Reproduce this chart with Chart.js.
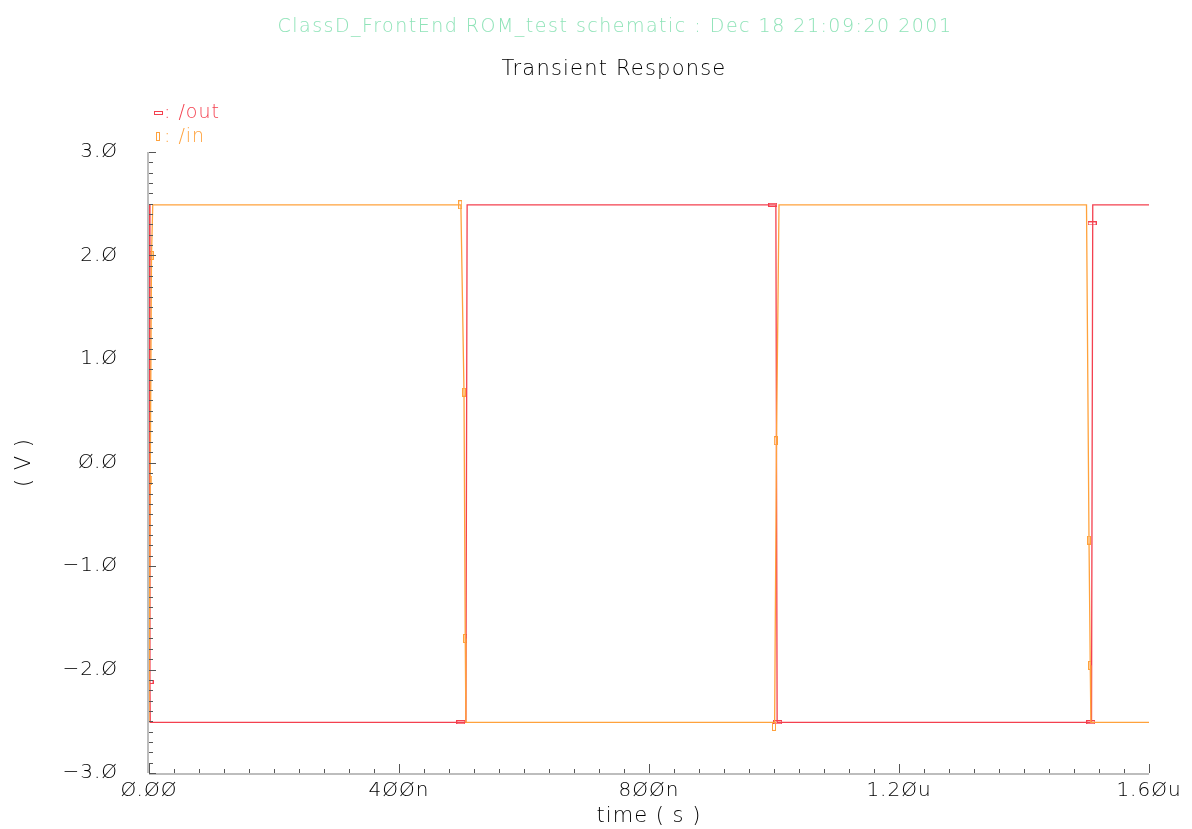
<!DOCTYPE html>
<html>
<head>
<meta charset="utf-8">
<script src="https://cdn.jsdelivr.net/npm/chart.js@4"></script>
<style>
  body { margin: 0; background: #fff; }
  #wrap { width: 1192px; height: 829px; }
</style>
</head>
<body>
<div id="wrap"><canvas id="canva" width="1192" height="829"></canvas></div>
<script>
// values (time in ns, voltage in V)
const outTime = [0, 1.5, 2, 507, 509, 1003, 1005, 1508, 1510, 1600];
const outVolt = [2.49, -2.12, -2.51, -2.51, 2.49, 2.49, -2.51, -2.51, 2.49, 2.49];
const inTime = [0, 2, 4, 6, 499, 504, 506, 507, 1001, 1004, 1008, 1500, 1504, 1506, 1507, 1600];
const inVolt = [-2.51, -0.17, 2.0, 2.49, 2.49, 0.68, -1.7, -2.51, -2.51, 0.21, 2.49, 2.49, -0.75, -1.96, -2.51, -2.51];
// marker positions
const outMarkTime = [0, 499, 998, 1006, 1507, 1509];
const outMarkVolt = [-2.12, -2.51, 2.49, -2.51, -2.51, 2.31];
const inMarkTime = [2, 4, 498, 504, 506, 1000, 1003, 1504, 1506];
const inMarkVolt = [-0.17, 2.0, 2.49, 0.68, -1.7, -2.55, 0.21, -0.75, -1.96];

const xTicks = [0, 400, 800, 1200, 1600];
const xLabels = ["Ø.ØØ", "4ØØn", "8ØØn", "1.2Øu", "1.6Øu"];
const yTicks = [-3, -2, -1, 0, 1, 2, 3];
const yLabels = ["−3.Ø", "−2.Ø", "−1.Ø", "Ø.Ø", "1.Ø", "2.Ø", "3.Ø"];

const header = "ClassD_FrontEnd ROM_test schematic : Dec 18 21:09:20 2001";
const title = "Transient Response";

const RED = "#f4404f";
const ORANGE = "#ffa23c";
const FONT = '"DejaVu Sans", sans-serif';

function markCanvas(w, h, color) {
  const c = document.createElement("canvas");
  c.width = w; c.height = h;
  const g = c.getContext("2d");
  g.strokeStyle = color;
  g.lineWidth = 1;
  g.strokeRect(0.5, 0.5, w - 1, h - 1);
  return c;
}
const redMark = markCanvas(9, 4, RED);
const orMark = markCanvas(4, 9, ORANGE);

const pts = (xs, ys) => xs.map((x, i) => ({ x: x, y: ys[i] }));

const decor = {
  id: "decor",
  beforeDraw(chart) {
    chart.ctx.letterSpacing = "1px";
  },
  afterDraw(chart) {
    const g = chart.ctx;
    const a = chart.chartArea;
    const xs = chart.scales.x, ys = chart.scales.y;
    g.save();
    // header + title
    g.textAlign = "center";
    g.textBaseline = "middle";
    g.letterSpacing = "1.5px";
    g.font = "200 19px " + FONT;
    g.fillStyle = "#8fe3b8";
    g.fillText(header, 615, 27);
    g.letterSpacing = "1.2px";
    g.font = "200 21px " + FONT;
    g.fillStyle = "#000";
    g.fillText(title, 614, 70);
    // legend
    g.textAlign = "left";
    g.letterSpacing = "1px";
    g.font = "200 19px " + FONT;
    g.drawImage(redMark, 154, 111);
    g.fillStyle = RED;
    g.fillText(": /out", 164, 113);
    g.drawImage(orMark, 156, 132);
    g.fillStyle = ORANGE;
    g.fillText(": /in", 164, 137);
    // axis lines
    g.strokeStyle = "#bdbdbd";
    g.lineWidth = 2;
    g.beginPath();
    g.moveTo(a.left - 1, a.top);
    g.lineTo(a.left - 1, a.bottom);
    g.moveTo(a.left, a.bottom + 1);
    g.lineTo(a.right, a.bottom + 1);
    g.stroke();
    // ticks
    g.strokeStyle = "#555";
    g.lineWidth = 1;
    g.beginPath();
    for (let i = 0; i <= 60; i++) {
      const v = -3 + i * 0.1;
      const y = Math.round(ys.getPixelForValue(v)) + 0.5;
      const len = i % 10 === 0 ? 7 : 4;
      g.moveTo(a.left, y);
      g.lineTo(a.left + len, y);
    }
    for (let i = 0; i <= 40; i++) {
      const x = Math.round(xs.getPixelForValue(i * 40)) + 0.5;
      const len = i % 10 === 0 ? 9 : 4;
      g.moveTo(x, a.bottom);
      g.lineTo(x, a.bottom - len);
    }
    g.stroke();
    g.restore();
  }
};

new Chart(document.getElementById("canva"), {
  type: "scatter",
  data: {
    datasets: [
      { data: pts(inTime, inVolt), showLine: true, borderColor: ORANGE, borderWidth: 1.3, pointRadius: 0 },
      { data: pts(outTime, outVolt), showLine: true, borderColor: RED, borderWidth: 1.3, pointRadius: 0 },
      { data: pts(inMarkTime, inMarkVolt), pointStyle: orMark, pointRadius: 4 },
      { data: pts(outMarkTime, outMarkVolt), pointStyle: redMark, pointRadius: 4 }
    ]
  },
  options: {
    responsive: false,
    animation: false,
    layout: { padding: { top: 152, right: 43, bottom: 0, left: 0 } },
    plugins: { legend: { display: false }, tooltip: { enabled: false } },
    scales: {
      x: {
        type: "linear",
        min: 0,
        max: 1600,
        afterFit: (s) => { s.height = 56; },
        afterBuildTicks: (s) => { s.ticks = xTicks.map((v) => ({ value: v })); },
        ticks: {
          callback: (v) => xLabels[xTicks.indexOf(v)],
          color: "#000",
          font: { family: FONT, size: 20, weight: 200 },
          padding: 6,
          maxRotation: 0
        },
        grid: { display: false, drawTicks: false },
        border: { display: false },
        title: { display: true, text: "time ( s )", color: "#000", font: { family: FONT, size: 21, weight: 200 }, padding: { top: 0, bottom: 0 } }
      },
      y: {
        min: -3,
        max: 3,
        afterFit: (s) => { s.width = 149; },
        afterBuildTicks: (s) => { s.ticks = yTicks.map((v) => ({ value: v })); },
        ticks: {
          callback: (v) => yLabels[yTicks.indexOf(v)],
          color: "#000",
          font: { family: FONT, size: 20, weight: 200 },
          padding: 31
        },
        grid: { display: false, drawTicks: false },
        border: { display: false },
        title: { display: true, text: "( V )", color: "#000", font: { family: FONT, size: 21, weight: 200 }, padding: { top: 12, bottom: 0 } }
      }
    }
  },
  plugins: [decor]
});
</script>
</body>
</html>
